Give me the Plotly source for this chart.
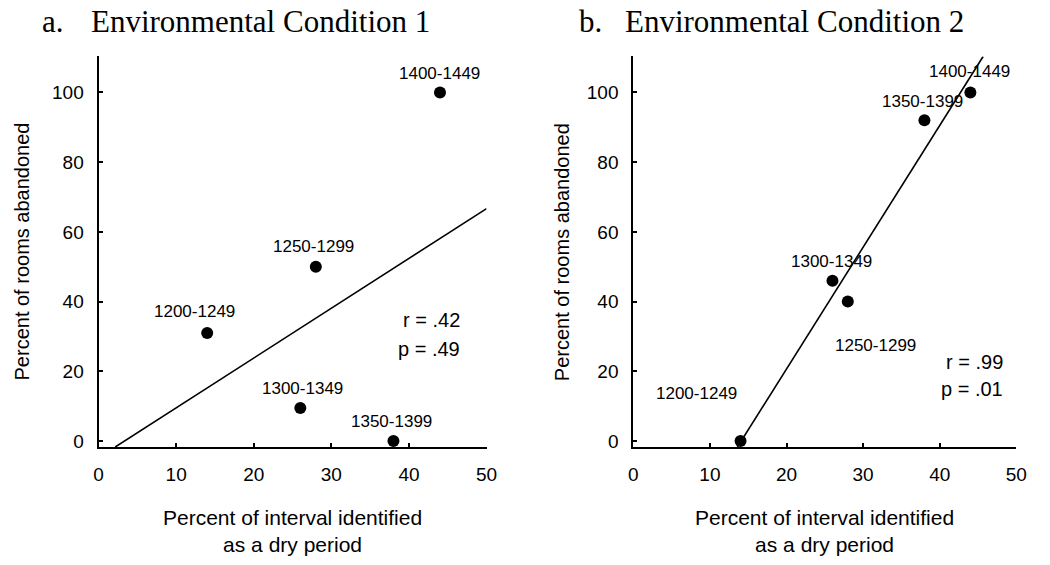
import numpy as np
import plotly.graph_objects as go

# ---------------- data ----------------
periods = ["1200-1249", "1250-1299", "1300-1349", "1350-1399", "1400-1449"]
dry_pct = [14, 28, 26, 38, 44]
abandoned_a = [31, 50, 9.5, 0, 100]
abandoned_b = [0, 40, 46, 92, 100]
stats_a = ["r = .42", "p = .49"]
stats_b = ["r = .99", "p = .01"]
x_ticks = [0, 10, 20, 30, 40, 50]
y_ticks = [0, 20, 40, 60, 80, 100]
title_letters = ["a.", "b."]
title_texts = ["Environmental Condition 1", "Environmental Condition 2"]
x_title = "Percent of interval identified<br>as a dry period"
y_title = "Percent of rooms abandoned"

# ---------------- layout helpers ----------------
W, H = 1050, 565
SANS = "Liberation Sans, Arial, sans-serif"
SERIF = "Liberation Serif, Times New Roman, serif"
X_RANGE = [0, 50]
Y_RANGE = [-1.7, 110.3]
PLOT_TOP, PLOT_BOT = 57, 451
panels = [
    dict(x0=95, x1=489, ys=abandoned_a, stats=stats_a,
         offsets=[(-13, -21), (-2, -20), (2, -19), (-2, -20), (0, -19)],
         stat_x=46.9, stat_y=[34.7, 26.4], ytitle_px=17,
         title_px=(36, 85)),
    dict(x0=638, x1=1027, ys=abandoned_b, stats=stats_b,
         offsets=[(-44, -48), (28, 44), (-1, -19), (-2, -19), (-1, -21)],
         stat_x=48.5, stat_y=[22.8, 14.8], ytitle_px=565,
         title_px=(581, 628)),
]

fig = go.Figure()
annotations = []
for i, p in enumerate(panels):
    sfx = "" if i == 0 else str(i + 1)
    xref, yref = "x" + sfx, "y" + sfx
    # regression line
    slope, icpt = np.polyfit(dry_pct, p["ys"], 1)
    xa = (Y_RANGE[0] - icpt) / slope
    xb = (Y_RANGE[1] - icpt) / slope
    lx = [max(X_RANGE[0], min(xa, xb)), min(X_RANGE[1], max(xa, xb))]
    ly = [slope * v + icpt for v in lx]
    fig.add_trace(go.Scatter(x=lx, y=ly, mode="lines", xaxis=xref, yaxis=yref,
                             line=dict(color="black", width=1.6),
                             showlegend=False, hoverinfo="skip"))
    fig.add_trace(go.Scatter(x=dry_pct, y=p["ys"], mode="markers",
                             xaxis=xref, yaxis=yref, cliponaxis=False,
                             marker=dict(color="black", size=12, symbol="circle"),
                             showlegend=False))
    for lab, xv, yv, (dx, dy) in zip(periods, dry_pct, p["ys"], p["offsets"]):
        annotations.append(dict(x=xv, y=yv, xref=xref, yref=yref, text=lab,
                                showarrow=False, xshift=dx, yshift=-dy,
                                font=dict(family=SANS, size=17, color="black")))
    for s, sy in zip(p["stats"], p["stat_y"]):
        annotations.append(dict(x=p["stat_x"], y=sy, xref=xref, yref=yref, text=s,
                                showarrow=False, xanchor="right",
                                font=dict(family=SANS, size=20, color="black")))
    # axis titles
    annotations.append(dict(x=(p["x0"] + p["x1"]) / 2 / W, y=1 - 536 / H,
                            xref="paper", yref="paper", text=x_title,
                            showarrow=False, xanchor="center", yanchor="middle",
                            font=dict(family=SANS, size=21, color="black")))
    annotations.append(dict(x=p["ytitle_px"] / W, y=1 - 254 / H,
                            xref="paper", yref="paper", text=y_title, textangle=-90,
                            showarrow=False, xanchor="center", yanchor="middle",
                            font=dict(family=SANS, size=20, color="black")))
    # panel titles
    annotations.append(dict(x=p["title_px"][0] / W, y=1 - 22 / H, xref="paper",
                            yref="paper", text=title_letters[i], showarrow=False,
                            xanchor="left", yanchor="middle",
                            font=dict(family=SERIF, size=31, color="black")))
    annotations.append(dict(x=p["title_px"][1] / W, y=1 - 22 / H, xref="paper",
                            yref="paper", text=title_texts[i], showarrow=False,
                            xanchor="left", yanchor="middle",
                            font=dict(family=SERIF, size=31, color="black")))

    axis_common = dict(showline=True, linecolor="black", linewidth=2,
                       ticks="inside", ticklen=4, tickwidth=1.5, tickcolor="black",
                       showgrid=False, zeroline=False,
                       tickfont=dict(family=SANS, size=19, color="black"))
    fig.layout["xaxis" + sfx] = dict(axis_common, range=X_RANGE, tickvals=x_ticks,
                                     domain=[p["x0"] / W, p["x1"] / W],
                                     anchor=yref, ticklabelstandoff=9)
    fig.layout["yaxis" + sfx] = dict(axis_common, range=Y_RANGE, tickvals=y_ticks,
                                     domain=[1 - PLOT_BOT / H, 1 - PLOT_TOP / H],
                                     anchor=xref, ticklabelstandoff=9)

fig.update_layout(width=W, height=H, margin=dict(l=0, r=0, t=0, b=0),
                  paper_bgcolor="white", plot_bgcolor="white",
                  annotations=annotations, showlegend=False)
fig.write_html("out.html")
